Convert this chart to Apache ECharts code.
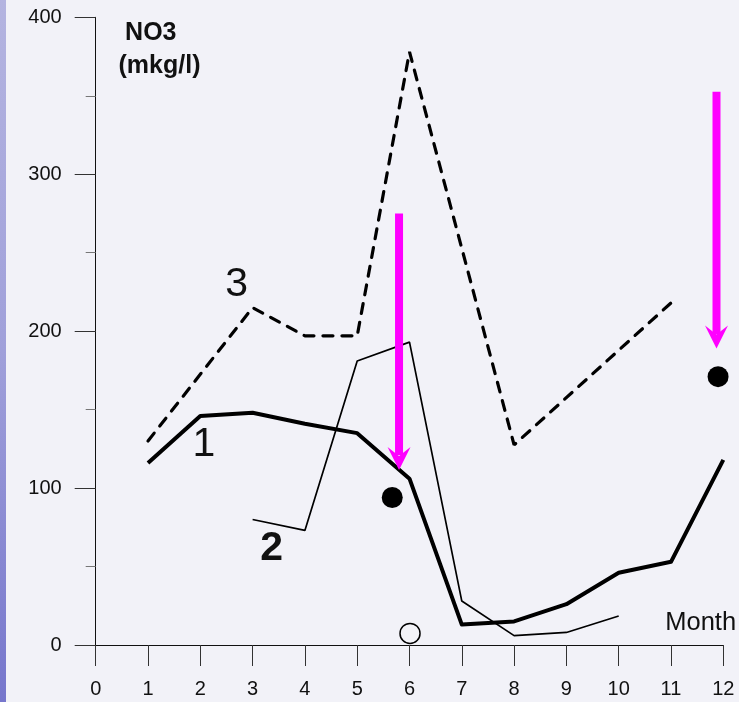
<!DOCTYPE html>
<html><head><meta charset="utf-8">
<script src="https://cdn.jsdelivr.net/npm/echarts@6/dist/echarts.min.js"></script>
<style>html,body{margin:0;padding:0;background:#f2f2f8}#c{width:739px;height:702px}</style>
</head><body><div id="c"></div>
<script>
// ---- data ----
const xTickValues = [0,1,2,3,4,5,6,7,8,9,10,11,12];
const yTickValues = [0,100,200,300,400];

const line1Months = [1,2,3,4,5,6,7,8,9,10,11,12];
const line1Values = [116,146,148,141,135,106,13,15,26,46,53,118];

const line2Months = [3,4,5,6,7,8,9,10];
const line2Values = [80,73,181,193,28,6,8,18.5];

const line3Months = [1,3,4,5,6,8,11];
const line3Values = [130,215,197,197,378,127.5,218];

const filledDotMonths = [5.67, 11.9];
const filledDotValues = [94, 171];

const openDotMonths = [6.01];
const openDotValues = [7.4];

const arrowMonths = [5.8, 11.87];
const arrowTopValues = [275, 352.5];
const arrowShaftEndValues = [121, 198];
const arrowTipValues = [111.5, 189];

const yTitleLines = ['NO3', '(mkg/l)'];
const xTitle = 'Month';
const seriesLabels = ['1', '2', '3'];

// ---- build ----
const font = "'Liberation Sans', Arial, sans-serif";
const zip = (a, b) => a.map((v, i) => [v, b[i]]);

const series = [
  {
    type: 'line', data: zip(line3Months, line3Values), symbol: 'none', z: 3,
    lineStyle: {color: '#000', width: 3.2, type: [10, 9], cap: 'round'}
  },
  {
    type: 'line', data: zip(line2Months, line2Values), symbol: 'none', z: 3,
    lineStyle: {color: '#000', width: 1.7}
  },
  {
    type: 'line', data: zip(line1Months, line1Values), symbol: 'none', z: 4,
    lineStyle: {color: '#000', width: 4, join: 'round'}
  },
  {
    type: 'scatter', data: zip(filledDotMonths, filledDotValues), symbol: 'circle', symbolSize: 21, z: 5,
    itemStyle: {color: '#000', opacity: 1}
  },
  {
    type: 'scatter', data: zip(openDotMonths, openDotValues), symbol: 'circle', symbolSize: 20, z: 5,
    itemStyle: {color: '#f3f3f8', borderColor: '#000', borderWidth: 1.5, opacity: 1}
  }
];
arrowMonths.forEach((m, i) => {
  series.push({
    type: 'line', data: [[m, arrowTopValues[i]], [m, arrowShaftEndValues[i]]], symbol: 'none', z: 6,
    lineStyle: {color: '#ff00ff', width: 8, cap: 'butt'}
  });
  series.push({
    type: 'scatter', data: [[m, arrowTipValues[i]]], z: 6,
    symbol: 'path://M0,0 L11.5,9 L23,0 L11.5,23 Z', symbolSize: [23, 23], symbolOffset: [0, -11.5],
    itemStyle: {color: '#ff00ff', opacity: 1}
  });
});

const chart = echarts.init(document.getElementById('c'), null, {renderer: 'canvas'});
chart.setOption({
  animation: false,
  backgroundColor: '#f2f2f8',
  grid: {left: 95.7, right: 15.7, top: 17.3, bottom: 57},
  xAxis: {
    type: 'value', min: xTickValues[0], max: xTickValues[xTickValues.length - 1], interval: 1,
    axisLine: {show: true, onZero: false, lineStyle: {color: '#111', width: 1}},
    axisTick: {show: true, inside: false, length: 21, lineStyle: {color: '#333', width: 1}},
    axisLabel: {show: true, margin: 34, color: '#111', fontSize: 20, fontFamily: font,
      formatter: v => xTickValues.includes(v) ? String(v) : ''},
    splitLine: {show: false}
  },
  yAxis: {
    type: 'value', min: yTickValues[0], max: yTickValues[yTickValues.length - 1], interval: 100,
    axisLine: {show: true, onZero: false, lineStyle: {color: '#111', width: 1}},
    axisTick: {show: true, inside: false, length: 21, lineStyle: {color: '#333', width: 1}},
    minorTick: {show: true, splitNumber: 2, length: 10, lineStyle: {color: '#777', width: 1}},
    axisLabel: {show: true, margin: 34, color: '#111', fontSize: 20, fontFamily: font,
      formatter: v => yTickValues.includes(v) ? String(v) : ''},
    splitLine: {show: false}
  },
  graphic: [
    {type: 'rect', left: 0, top: 0, z: -10, silent: true,
     shape: {width: 6, height: 702},
     style: {fill: new echarts.graphic.LinearGradient(0, 0, 0, 1, [
       {offset: 0, color: '#b4b4e0'}, {offset: 0.5, color: '#a0a0da'}, {offset: 1, color: '#7676cc'}])}},
    {type: 'text', x: 150.8, y: 33.3, z: 10,
     style: {text: yTitleLines[0], font: 'bold 25px ' + font, fill: '#111', align: 'center', verticalAlign: 'middle'}},
    {type: 'text', x: 159.5, y: 66.5, z: 10,
     style: {text: yTitleLines[1], font: 'bold 25px ' + font, fill: '#111', align: 'center', verticalAlign: 'middle'}},
    {type: 'text', x: 700.7, y: 622.7, z: 10,
     style: {text: xTitle, font: '25.5px ' + font, fill: '#111', align: 'center', verticalAlign: 'middle'}},
    {type: 'text', x: 204, y: 445, z: 10,
     style: {text: seriesLabels[0], font: '41px ' + font, fill: '#111', align: 'center', verticalAlign: 'middle'}},
    {type: 'text', x: 271.7, y: 548.3, z: 10,
     style: {text: seriesLabels[1], font: 'bold 41px ' + font, fill: '#111', align: 'center', verticalAlign: 'middle'}},
    {type: 'text', x: 236.7, y: 285, z: 10,
     style: {text: seriesLabels[2], font: '41px ' + font, fill: '#111', align: 'center', verticalAlign: 'middle'}}
  ],
  series: series
});
</script>
</body></html>
